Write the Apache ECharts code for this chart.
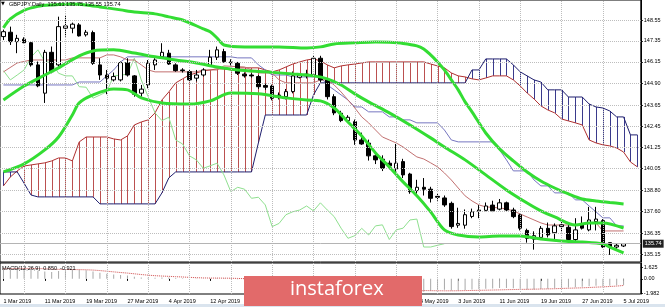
<!DOCTYPE html>
<html><head><meta charset="utf-8">
<script src="https://cdn.jsdelivr.net/npm/echarts@6/dist/echarts.min.js"></script>
<style>html,body{margin:0;padding:0;background:#fff}#c{width:665px;height:307px}</style>
</head><body><div id="c"></div>
<script>
const monthDays = [
  ['Mar',[1,4,5,6,7,8,11,12,13,14,15,18,19,20,21,22,25,26,27,28,29]],
  ['Apr',[1,2,3,4,5,8,9,10,11,12,15,16,17,18,19,22,23,24,25,26,29,30]],
  ['May',[1,2,3,6,7,8,9,10,13,14,15,16,17,20,21,22,23,24,27,28,29,30,31]],
  ['Jun',[3,4,5,6,7,10,11,12,13,14,17,18,19,20,21,24,25,26,27,28]],
  ['Jul',[1,2,3,4,5,8,9]]
];
const dates = [];
monthDays.forEach(([m, days]) => days.forEach(d => dates.push(d + ' ' + m + ' 2019')));

const opens = [147.60,147.85,147.31,147.45,147.25,145.98,144.36,146.70,145.98,148.08,
148.08,148.27,147.70,147.83,145.98,145.40,145.12,145.12,146.11,145.35,
144.36,144.83,145.98,146.45,146.65,145.98,145.69,145.59,145.22,145.40,
145.92,146.42,146.74,146.15,146.07,145.45,145.40,145.31,144.80,144.77,
144.20,144.16,144.45,145.27,145.35,145.40,146.36,145.12,144.16,143.21,
142.79,142.73,141.68,141.50,140.77,140.58,140.35,140.02,140.44,139.73,
138.78,138.97,138.86,138.45,138.36,138.05,136.80,136.80,137.30,137.60,
137.65,137.95,137.72,138.08,137.67,137.39,136.50,136.00,136.10,136.62,
136.37,136.72,136.68,135.98,136.82,136.53,137.00,137.06,135.80,135.55,
135.61];
const closes = [147.88,147.31,147.50,147.25,145.98,144.78,146.70,145.59,148.17,148.21,
148.31,147.64,147.85,146.07,145.40,145.22,145.31,146.11,145.40,144.30,
144.59,146.07,146.26,146.70,146.03,145.65,145.65,145.12,145.40,145.69,
146.42,146.84,146.17,146.10,145.50,145.35,145.35,144.73,144.70,144.07,
144.25,144.45,145.35,145.39,145.45,146.36,145.12,144.16,143.23,142.79,
142.98,141.68,141.45,140.77,140.54,140.06,140.20,140.35,139.68,138.72,
138.97,138.86,138.34,138.40,137.96,136.72,136.90,137.40,137.57,137.67,
137.90,137.62,138.08,137.67,137.29,136.63,136.05,136.20,136.62,136.24,
136.76,136.82,135.98,136.53,136.63,137.10,137.15,135.55,135.55,135.65,
135.74];
const lows = [147.40,147.12,146.65,147.22,145.88,144.70,143.80,145.50,145.88,147.60,
147.79,147.60,147.60,145.98,145.12,144.30,145.03,145.03,145.31,144.16,
144.16,144.64,145.69,146.36,145.98,145.59,145.54,145.03,145.03,145.31,
145.88,146.26,146.10,145.95,145.40,145.25,145.25,144.60,144.55,143.95,
144.00,144.00,144.35,145.20,145.20,145.30,145.00,144.00,143.10,142.70,
142.70,141.40,141.40,140.50,140.30,139.90,140.00,139.85,139.50,138.60,
138.60,138.50,138.10,138.20,137.85,136.60,136.65,136.60,137.20,137.20,
137.60,137.55,137.65,137.60,137.20,136.50,135.80,135.40,135.95,136.10,
135.95,136.40,135.85,135.85,136.55,136.45,136.50,135.50,135.10,135.45,
135.55];
const highs = [148.00,148.17,147.70,147.56,147.31,146.17,146.84,147.03,148.74,148.84,
148.40,148.37,147.98,147.94,146.36,145.69,145.54,146.17,146.36,145.40,
144.83,146.26,146.36,147.22,146.84,146.07,145.79,145.69,145.69,145.79,
146.84,147.03,146.90,146.30,146.15,145.55,145.50,145.40,144.90,144.85,
144.40,144.60,145.60,145.50,145.70,146.50,146.50,145.20,144.30,143.35,
143.10,142.85,142.10,141.70,140.90,140.80,140.50,141.45,140.60,139.80,
139.40,139.50,139.00,138.60,138.50,138.15,137.80,137.70,137.75,137.95,
138.10,138.20,138.30,138.15,137.80,137.45,136.60,136.45,136.75,136.95,
136.90,137.00,136.80,137.20,137.30,137.85,137.85,137.15,135.80,135.75,
135.75];

const senkouA = [139.05,139.56,139.91,140.19,140.25,140.31,140.37,140.48,140.65,140.65,
140.48,141.57,141.85,141.85,141.85,141.85,141.74,141.68,141.91,142.54,
142.71,142.83,143.23,143.97,144.43,144.95,145.18,145.40,145.52,145.63,
145.69,145.75,145.75,145.69,145.81,145.81,145.81,145.81,145.69,145.58,
145.69,145.86,146.03,146.15,146.26,146.32,146.21,145.98,145.81,145.92,
145.98,146.03,146.09,146.15,146.15,146.15,146.15,146.15,146.15,146.15,
146.15,146.15,146.03,145.92,145.81,145.52,145.35,145.29,145.18,145.12,
145.23,145.35,145.35,145.35,145.12,144.77,144.37,144.03,143.63,143.40,
143.23,142.88,142.77,142.66,142.54,141.68,141.51,141.40,141.34,141.22,
140.99,140.42,140.14];
const senkouB = [139.85,139.85,139.85,139.20,138.53,138.42,138.42,138.42,138.42,138.42,
138.42,138.42,138.42,138.42,138.02,138.02,138.02,138.02,138.02,138.02,
138.02,138.02,138.02,138.65,139.51,139.85,139.85,139.85,139.85,139.85,
139.85,139.85,139.85,139.85,139.85,139.85,139.85,141.51,143.11,143.11,
143.11,143.11,143.11,143.11,143.11,144.26,144.95,144.95,144.95,144.95,
144.95,144.95,144.95,144.95,144.95,144.95,144.95,144.95,144.95,144.95,
144.95,144.95,144.95,144.95,144.95,144.95,144.95,144.95,145.69,145.69,
146.32,146.32,146.32,146.32,145.98,145.58,145.35,145.12,145.00,144.55,
144.55,144.55,144.14,144.14,144.14,143.74,143.57,143.51,143.34,143.00,
143.00,141.97,141.97];

const tenkan = [[0,145.58],[2,146.09],[4,146.26],[9,146.26],[10,146.38],[14,146.38],[15,146.55],[16,146.55],[17,146.44],[18,146.26],[19,146.26],[20,145.98],[21,145.69],[22,145.58],[28,145.58],[29,145.69],[31,145.69],[32,145.92],[35,145.86],[36,145.69],[37,145.52],[39,145.52],[40,145.12],[41,144.95],[45,144.95],[46,145.12],[47,145.12],[48,144.83],[49,144.43],[50,143.97],[51,143.51],[52,143.00],[53,142.66],[54,142.25],[55,141.85],[56,141.68],[57,141.51],[58,141.28],[59,140.99],[60,140.71],[61,140.59],[62,140.37],[63,140.14],[64,139.79],[65,139.39],[66,138.93],[67,138.48],[68,138.19],[69,137.96],[70,137.85],[72,137.79],[73,137.73],[74,137.62],[75,137.44],[76,137.27],[77,137.10],[78,136.93],[79,136.81],[84,136.81],[85,136.93],[86,136.93],[87,136.47],[90,136.47]];
const kijun = [[0,144.83],[10,144.83],[11,145.00],[14,145.00],[15,145.35],[16,145.69],[17,146.15],[18,146.44],[33,146.44],[34,146.38],[36,146.38],[37,145.98],[38,145.69],[39,145.40],[41,145.40],[42,145.29],[46,145.29],[47,144.83],[48,144.55],[49,144.26],[50,143.97],[51,143.57],[52,143.57],[53,143.29],[55,143.29],[56,143.00],[57,143.00],[58,142.83],[59,142.83],[60,142.66],[63,142.66],[64,142.25],[65,141.68],[66,141.57],[71,141.57],[72,141.11],[73,140.54],[74,139.91],[76,139.91],[77,139.39],[78,139.05],[79,139.05],[80,138.65],[82,138.65],[83,138.25],[84,138.25],[85,137.90],[86,137.56],[87,137.22],[88,137.22],[89,136.76],[90,136.76]];
const chikou = [145.65,145.12,145.40,145.69,146.42,146.84,146.17,146.10,145.50,145.35,
145.35,144.73,144.70,144.07,144.25,144.45,145.35,145.39,145.45,146.36,
145.12,144.16,143.23,142.79,142.98,141.68,141.45,140.77,140.54,140.06,
140.20,140.35,139.68,138.72,138.97,138.86,138.34,138.40,137.96,136.72,
136.90,137.40,137.57,137.67,137.90,137.62,138.08,137.67,137.29,136.63,
136.05,136.20,136.62,136.24,136.76,136.82,135.98,136.53,136.63,137.10,
137.15,135.55,135.55,135.65,135.74];

const bbUpper = [[0,148.10],[1,148.61],[3,149.10],[5,149.33],[7,149.41],[10,149.47],[12,149.41],[14,149.30],[17,149.13],[19,149.01],[22,148.90],[24,148.73],[26,148.55],[29,148.04],[30,147.87],[31,147.52],[32,147.12],[35,147.01],[40,147.01],[44,146.95],[46,147.01],[48,147.18],[51,147.24],[54,147.29],[56,147.27],[58,147.21],[60,147.07],[61,146.89],[62,146.55],[63,146.15],[64,145.69],[65,145.12],[66,144.55],[67,143.86],[68,143.29],[70,142.08],[72,141.17],[74,140.48],[76,139.85],[78,139.33],[80,138.93],[82,138.59],[84,138.30],[86,138.19],[88,138.10],[90,138.02]];
const bbMiddle = [[0,143.97],[3,144.77],[6,145.40],[8,145.81],[11,146.49],[13,146.78],[16,146.84],[19,146.66],[22,146.44],[25,146.26],[28,146.09],[31,145.86],[34,145.69],[38,145.58],[42,145.46],[45,145.35],[47,145.18],[49,144.83],[51,144.32],[53,143.86],[56,143.23],[59,142.54],[62,141.80],[64,141.28],[67,140.54],[70,139.68],[73,138.82],[76,138.07],[78,137.62],[80,137.27],[83,136.81],[85,136.93],[87,136.93],[90,136.64]];
const bbLower = [[0,139.85],[3,140.31],[6,141.11],[8,141.85],[10,143.11],[11,143.80],[13,144.26],[16,144.60],[18,144.55],[20,144.09],[23,143.80],[27,143.74],[30,143.92],[33,144.37],[37,144.32],[41,144.09],[44,143.97],[46,143.92],[48,143.51],[50,142.71],[52,141.91],[54,140.94],[56,140.14],[58,139.28],[60,138.48],[62,137.56],[64,136.53],[66,136.24],[69,136.13],[72,136.18],[75,136.18],[78,136.01],[81,135.90],[84,135.84],[87,135.73],[88,135.55],[90,135.21]];

const macdHist = [1.50,1.52,1.48,1.42,1.30,1.12,1.02,0.95,1.08,1.20,
1.28,1.25,1.18,1.02,0.86,0.70,0.60,0.55,0.45,0.30,
0.18,0.15,0.16,0.20,0.18,0.12,0.08,0.02,-0.02,-0.02,
0.04,0.10,0.08,0.04,-0.04,-0.10,-0.15,-0.25,-0.32,-0.45,
-0.50,-0.50,-0.40,-0.35,-0.32,-0.25,-0.30,-0.45,-0.65,-0.85,
-1.00,-1.20,-1.38,-1.55,-1.70,-1.82,-1.90,-1.92,-1.98,-2.05,
-2.00,-1.80,-1.65,-1.55,-1.50,-1.60,-1.62,-1.55,-1.48,-1.42,
-1.36,-1.32,-1.28,-1.27,-1.30,-1.38,-1.46,-1.48,-1.42,-1.36,
-1.30,-1.24,-1.20,-1.16,-1.10,-1.02,-0.96,-1.00,-0.95,-0.90,
-0.85];
const macdSignal = [1.40,1.42,1.44,1.45,1.45,1.43,1.40,1.36,1.32,1.30,
1.29,1.28,1.26,1.22,1.15,1.06,0.97,0.88,0.80,0.70,
0.60,0.51,0.44,0.39,0.35,0.30,0.26,0.21,0.16,0.13,
0.11,0.11,0.10,0.09,0.06,0.03,0.00,-0.05,-0.10,-0.17,
-0.23,-0.29,-0.31,-0.32,-0.32,-0.31,-0.31,-0.34,-0.40,-0.49,
-0.59,-0.71,-0.84,-0.98,-1.12,-1.26,-1.39,-1.50,-1.60,-1.69,
-1.75,-1.62,-1.64,-1.65,-1.66,-1.66,-1.65,-1.63,-1.61,-1.59,
-1.57,-1.55,-1.53,-1.50,-1.48,-1.46,-1.45,-1.43,-1.41,-1.39,
-1.37,-1.33,-1.30,-1.27,-1.24,-1.20,-1.15,-1.11,-1.06,-1.00,
-0.92];

const yTicks = [148.55,147.35,146.15,144.90,143.65,142.45,141.25,140.05,138.80,137.60,136.35,135.15];
const macdTicks = [1.625, 0, -1.982];
const macdTickLabels = ['1.625', '0.00', '-1.982'];
const lastPrice = 135.74;
const headerText = 'GBPJPY,Daily  135.61 135.75 135.55 135.74';
const macdText = 'MACD(12,26,9)  0.850  -0.921';

const FONT = 'Liberation Sans';
const candleData = opens.map((o, i) => [o, closes[i], lows[i], highs[i]]);
const cloudData = senkouA.map((a, i) => [i, a, senkouB[i]]);
const vGrid = dates.map((d, i) => i).filter(i => i % 6 === 3).map(i => ({ xAxis: dates[i] }));
const gridLine = { type: 'dotted', color: '#bdbdbd', width: 1 };

const chart = echarts.init(document.getElementById('c'), null, { renderer: 'canvas' });
chart.setOption({
  animation: false,
  backgroundColor: '#ffffff',
  grid: [
    { left: 0, top: 0, right: 24.2, height: 262, show: true, borderColor: '#000', borderWidth: 1, backgroundColor: '#fff' },
    { left: 0, top: 263, right: 24.2, height: 31, show: true, borderColor: '#000', borderWidth: 1, backgroundColor: '#fff' }
  ],
  xAxis: [
    { gridIndex: 0, type: 'category', data: dates, boundaryGap: true, show: false },
    { gridIndex: 1, type: 'category', data: dates, boundaryGap: true,
      axisLine: { show: false },
      axisTick: { show: true, interval: (i) => i % 6 === 0, alignWithLabel: true, length: 2, lineStyle: { color: '#000' } },
      axisLabel: { interval: (i) => i % 6 === 0, align: 'left', fontSize: 5.5, color: '#000', margin: 4, fontFamily: FONT },
      splitLine: { show: false } }
  ],
  yAxis: [
    { gridIndex: 0, type: 'value', position: 'right', min: 134.692, max: 149.695,
      splitLine: { show: false },
      axisLine: { show: true, lineStyle: { color: '#000' } },
      axisTick: { show: true, customValues: yTicks, length: 2, lineStyle: { color: '#000' } },
      axisLabel: { customValues: yTicks, formatter: v => v.toFixed(2), fontSize: 5.5, color: '#000', margin: 3, fontFamily: FONT } },
    { gridIndex: 1, type: 'value', position: 'right', min: -2.1, max: 2.2,
      splitLine: { show: false },
      axisLine: { show: true, lineStyle: { color: '#000' } },
      axisTick: { show: true, customValues: macdTicks, length: 2, lineStyle: { color: '#000' } },
      axisLabel: { customValues: macdTicks, fontSize: 5.5, color: '#000', margin: 3, fontFamily: FONT,
        formatter: v => { let k = 0; macdTicks.forEach((t, j) => { if (Math.abs(t - v) < Math.abs(macdTicks[k] - v)) k = j; }); return macdTickLabels[k]; } } }
  ],
  series: [
    { type: 'line', xAxisIndex: 0, yAxisIndex: 0, data: [], silent: true, z: 0,
      markLine: { silent: true, symbol: 'none', label: { show: false }, lineStyle: gridLine, animation: false,
        data: yTicks.map(v => ({ yAxis: v })).concat(vGrid) } },
    { type: 'line', xAxisIndex: 1, yAxisIndex: 1, data: [], silent: true, z: 0,
      markLine: { silent: true, symbol: 'none', label: { show: false }, lineStyle: gridLine, animation: false, data: vGrid } },
    { type: 'custom', name: 'Kumo', xAxisIndex: 0, yAxisIndex: 0, data: cloudData, z: 1, silent: true,
      encode: { x: 0, y: [1, 2] },
      renderItem: (params, api) => {
        const i = api.value(0), a = api.value(1), b = api.value(2);
        const p1 = api.coord([i, a]), p2 = api.coord([i, b]);
        const x = Math.round(p1[0]) + 0.5;
        return { type: 'line', shape: { x1: x, y1: p1[1], x2: x, y2: p2[1] },
          style: { stroke: a >= b ? '#bb5050' : '#3a3a8c', lineWidth: 1 } };
      } },
    { type: 'line', name: 'Senkou A', data: senkouA, symbol: 'none', z: 2, lineStyle: { color: '#b03030', width: 1 } },
    { type: 'line', name: 'Senkou B', data: senkouB, symbol: 'none', z: 2, lineStyle: { color: '#1e1e6e', width: 1 } },
    { type: 'line', name: 'Chikou', data: chikou, symbol: 'none', z: 2, lineStyle: { color: '#8fe08f', width: 1 } },
    { type: 'line', name: 'Kijun', data: kijun, symbol: 'none', z: 2, lineStyle: { color: '#7676c0', width: 1 } },
    { type: 'line', name: 'Tenkan', data: tenkan, symbol: 'none', z: 2, lineStyle: { color: '#c27070', width: 1 } },
    { type: 'candlestick', name: 'GBPJPY', data: candleData, barWidth: 4, z: 3,
      itemStyle: { color: '#ffffff', color0: '#000000', borderColor: '#000000', borderColor0: '#000000', borderWidth: 1 },
      markLine: { silent: true, symbol: 'none', animation: false,
        lineStyle: { type: 'solid', color: '#b4b4b4', width: 1 },
        label: { show: true, position: 'end', distance: 2, formatter: lastPrice.toFixed(2), color: '#fff', backgroundColor: '#222',
          fontSize: 5.5, fontFamily: FONT, padding: [1, 2, 1, 2] },
        data: [{ yAxis: lastPrice }] } },
    { type: 'line', name: 'BB upper', data: bbUpper, symbol: 'none', smooth: 0.3, z: 4, lineStyle: { color: '#33dd33', width: 3 } },
    { type: 'line', name: 'BB middle', data: bbMiddle, symbol: 'none', smooth: 0.3, z: 4, lineStyle: { color: '#33dd33', width: 3 } },
    { type: 'line', name: 'BB lower', data: bbLower, symbol: 'none', smooth: 0.3, z: 4, lineStyle: { color: '#33dd33', width: 3 } },
    { type: 'bar', name: 'MACD', xAxisIndex: 1, yAxisIndex: 1, data: macdHist, barWidth: 1, z: 2,
      itemStyle: { color: '#a8a8a8' } },
    { type: 'line', name: 'Signal', xAxisIndex: 1, yAxisIndex: 1, data: macdSignal, symbol: 'none', z: 3,
      lineStyle: { color: '#d04848', width: 1, type: 'dotted' } }
  ],
  graphic: { elements: [
    { type: 'text', left: 1, top: 1, z: 50, style: { text: '▼', fontSize: 5, fill: '#000', fontFamily: 'DejaVu Sans' } },
    { type: 'text', left: 9, top: 1, z: 50, style: { text: headerText, fontSize: 5.6, fill: '#000', fontFamily: FONT } },
    { type: 'text', left: 2, top: 265, z: 50, style: { text: macdText, fontSize: 5.5, fill: '#000', fontFamily: FONT } },
    { type: 'rect', left: 0, top: 304, z: 40, shape: { width: 665, height: 3 }, style: { fill: '#dae4ee' } },
    { type: 'rect', left: 244, top: 276, z: 90, shape: { width: 178, height: 30 }, style: { fill: '#e26a6a' } },
    { type: 'text', left: 'center', top: 279, z: 91, x: 0, style: { text: 'instaforex', fontSize: 20, fill: '#ffffff', fontFamily: 'Open Sans', x: 0 },
      left: 290 }
  ] }
});
</script></body></html>
